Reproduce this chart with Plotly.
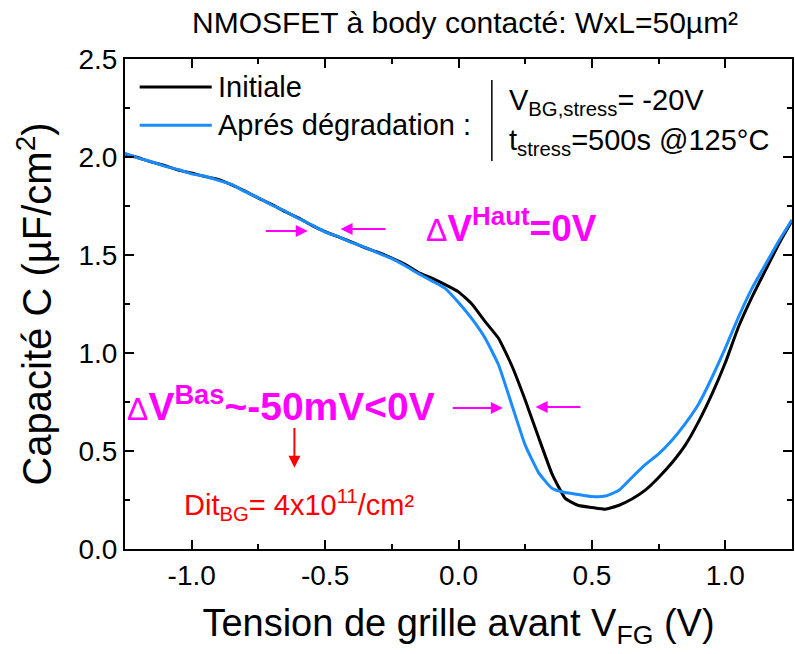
import plotly.graph_objects as go

# Tension de grille avant V_FG (V)
v_fg = [-1.25, -1.20, -1.15, -1.10, -1.05, -1.00, -0.95, -0.90, -0.85, -0.80,
        -0.75, -0.70, -0.65, -0.60, -0.55, -0.50, -0.45, -0.40, -0.35, -0.30,
        -0.25, -0.20, -0.15, -0.10, -0.05, 0.00, 0.05, 0.10, 0.15, 0.20,
        0.25, 0.30, 0.35, 0.40, 0.45, 0.50, 0.55, 0.60, 0.65, 0.70,
        0.75, 0.80, 0.85, 0.90, 0.95, 1.00, 1.05, 1.10, 1.15, 1.20, 1.25]

# Capacité C (µF/cm²)
c_initiale = [2.015, 1.996, 1.974, 1.956, 1.933, 1.918, 1.900, 1.885, 1.858, 1.826,
              1.790, 1.758, 1.721, 1.690, 1.651, 1.619, 1.592, 1.566, 1.537, 1.513,
              1.484, 1.452, 1.410, 1.382, 1.349, 1.312, 1.250, 1.160, 1.075, 0.935,
              0.760, 0.570, 0.385, 0.258, 0.222, 0.212, 0.203, 0.222, 0.255, 0.300,
              0.365, 0.440, 0.530, 0.650, 0.790, 0.950, 1.135, 1.285, 1.420, 1.555, 1.675]

c_apres = [2.018, 1.994, 1.976, 1.952, 1.936, 1.914, 1.902, 1.881, 1.860, 1.823,
           1.792, 1.755, 1.724, 1.686, 1.654, 1.617, 1.594, 1.563, 1.539, 1.509,
           1.481, 1.445, 1.405, 1.368, 1.330, 1.258, 1.175, 1.075, 0.940, 0.735,
           0.530, 0.390, 0.310, 0.288, 0.278, 0.268, 0.270, 0.298, 0.365, 0.430,
           0.485, 0.555, 0.640, 0.740, 0.875, 1.025, 1.185, 1.330, 1.450, 1.570, 1.680]

x_ticks = [-1.0, -0.5, 0.0, 0.5, 1.0]
x_ticktext = ["-1.0", "-0.5", "0.0", "0.5", "1.0"]
y_ticks = [0.0, 0.5, 1.0, 1.5, 2.0, 2.5]
y_ticktext = ["0.0", "0.5", "1.0", "1.5", "2.0", "2.5"]

FONT = "Arial, Liberation Sans, sans-serif"
MAG = "#ff00ff"

fig = go.Figure()
fig.add_trace(go.Scatter(x=v_fg, y=c_initiale, mode="lines", name="Initiale",
                         line=dict(color="black", width=3, shape="spline", smoothing=0.4)))
fig.add_trace(go.Scatter(x=v_fg, y=c_apres, mode="lines", name="Aprés dégradation",
                         line=dict(color="#1a8cff", width=3, shape="spline", smoothing=0.4)))

axis_common = dict(showline=True, linewidth=2, linecolor="black", mirror="ticks",
                   ticks="inside", ticklen=9, tickwidth=2, tickcolor="black",
                   showgrid=False, zeroline=False,
                   tickfont=dict(family=FONT, size=28, color="black"),
                   minor=dict(ticks="inside", ticklen=5, tickwidth=2, tickcolor="black",
                              dtick=0.25, tick0=0))

fig.update_xaxes(range=[-1.25, 1.25], tickvals=x_ticks, ticktext=x_ticktext,
                 title=dict(text="Tension de grille avant V<sub>FG</sub> (V)",
                            font=dict(family=FONT, size=38, color="black"), standoff=20),
                 **axis_common)
fig.update_yaxes(range=[0, 2.5], tickvals=y_ticks, ticktext=y_ticktext,
                 title=dict(text="Capacité C (µF/cm<sup>2</sup>)",
                            font=dict(family=FONT, size=40, color="black"), standoff=14),
                 **axis_common)

# manual legend
fig.add_shape(type="line", xref="paper", yref="paper", x0=0.022, x1=0.130, y0=0.943, y1=0.943,
              line=dict(color="black", width=3))
fig.add_shape(type="line", xref="paper", yref="paper", x0=0.022, x1=0.130, y0=0.865, y1=0.865,
              line=dict(color="#1a8cff", width=3))
fig.add_annotation(xref="paper", yref="paper", x=0.136, y=0.943, text="Initiale",
                   showarrow=False, xanchor="left", yanchor="middle",
                   font=dict(family=FONT, size=29, color="black"))
fig.add_annotation(xref="paper", yref="paper", x=0.136, y=0.865, text="Aprés dégradation :",
                   showarrow=False, xanchor="left", yanchor="middle",
                   font=dict(family=FONT, size=29, color="black"))
fig.add_shape(type="line", xref="paper", yref="paper", x0=0.550, x1=0.550, y0=0.792, y1=0.957,
              line=dict(color="black", width=1.5))
fig.add_annotation(xref="paper", yref="paper", x=0.572, y=0.912,
                   text="V<sub>BG,stress</sub>= -20V",
                   showarrow=False, xanchor="left", yanchor="middle",
                   font=dict(family=FONT, size=29, color="black"))
fig.add_annotation(xref="paper", yref="paper", x=0.572, y=0.830,
                   text="t<sub>stress</sub>=500s @125°C",
                   showarrow=False, xanchor="left", yanchor="middle",
                   font=dict(family=FONT, size=29, color="black"))

# delta V annotations
fig.add_annotation(x=-0.128, y=1.65, xref="x", yref="y",
                   text="<span style='font-weight:normal;font-size:32px'>Δ</span><b>V<sup>Haut</sup>=0V</b>",
                   showarrow=False, xanchor="left", yanchor="middle",
                   font=dict(family=FONT, size=37, color=MAG))
fig.add_annotation(x=-1.25, y=0.74, xref="x", yref="y",
                   text="<span style='font-weight:normal;font-size:32px'>Δ</span><b>V<sup>Bas</sup>~-50mV<0V</b>",
                   showarrow=False, xanchor="left", yanchor="middle",
                   font=dict(family=FONT, size=39, color=MAG))

arrows = [
    (-0.728, -0.565, 1.622, MAG),
    (-0.268, -0.442, 1.633, MAG),
    (-0.027, 0.166, 0.719, MAG),
    (0.463, 0.289, 0.724, MAG),
]
for xs, xe, yy, col in arrows:
    fig.add_annotation(x=xe, y=yy, ax=xs, ay=yy, xref="x", yref="y", axref="x", ayref="y",
                       text="", showarrow=True, arrowhead=2, arrowsize=1.2, arrowwidth=2,
                       arrowcolor=col)
fig.add_annotation(x=-0.615, y=0.415, ax=-0.615, ay=0.625, xref="x", yref="y", axref="x", ayref="y",
                   text="", showarrow=True, arrowhead=2, arrowsize=1.2, arrowwidth=2,
                   arrowcolor="red")
fig.add_annotation(x=-1.035, y=0.225, xref="x", yref="y",
                   text="Dit<sub>BG</sub>= 4x10<sup>11</sup>/cm²",
                   showarrow=False, xanchor="left", yanchor="middle",
                   font=dict(family=FONT, size=29, color="red"))

fig.update_layout(
    width=795, height=654,
    margin=dict(l=125, r=1, t=59, b=105),
    paper_bgcolor="white", plot_bgcolor="white",
    showlegend=False,
    title=dict(text="NMOSFET à body contacté: WxL=50µm²", x=0.585, xanchor="center",
               y=0.966, yanchor="middle", font=dict(family=FONT, size=30, color="black")),
)

fig.write_html("out.html", config={"displayModeBar": False},
               post_script="document.body.style.margin='0';document.body.style.overflow='hidden';")
